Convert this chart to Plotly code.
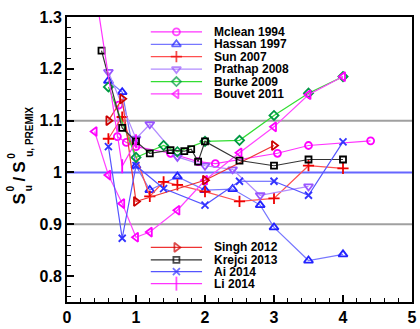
import plotly.graph_objects as go

# ---------------- data ----------------
mclean_x = [0.75, 0.73, 0.86, 1.0, 1.5, 1.9, 2.15, 3.05, 3.5, 4.4]
mclean_y = [1.13, 1.069, 1.058, 1.05, 1.037, 1.021, 1.017, 1.037, 1.052, 1.061]

hassan_x = [0.6, 0.8, 1.0, 1.2, 1.6, 2.0, 2.4, 2.8, 3.0, 3.5, 4.0]
hassan_y = [1.177, 1.155, 1.013, 0.966, 0.992, 0.966, 0.968, 0.937, 0.894, 0.83, 0.842]

sun_x = [0.6, 0.8, 1.2, 1.4, 1.6, 2.0, 2.5, 3.0, 3.5, 4.0]
sun_y = [1.065, 1.107, 0.954, 0.982, 0.976, 0.963, 0.944, 0.95, 1.013, 1.008]

prathap_x = [0.6, 1.0, 1.2, 1.6, 2.0, 2.4, 2.8, 3.5]
prathap_y = [1.194, 1.065, 1.093, 1.03, 1.013, 1.006, 0.956, 0.973]

burke_x = [0.6, 1.0, 1.4, 1.6, 2.0, 2.5, 3.0, 3.5, 4.0]
burke_y = [1.165, 1.029, 1.052, 1.04, 1.06, 1.062, 1.11, 1.153, 1.185]

bouvet_x = [0.4, 0.6, 0.8, 1.0, 1.2, 1.6, 2.0, 2.5, 3.0, 3.5, 4.0]
bouvet_y = [1.079, 0.995, 0.94, 0.875, 0.885, 0.927, 0.985, 1.038, 1.088, 1.15, 1.185]

singh_x = [0.6, 0.8, 1.0, 2.0, 3.0]
singh_y = [1.1, 1.142, 0.944, 0.985, 1.052]

krejci_x = [0.5, 0.8, 1.0, 1.2, 1.5, 1.7, 1.8, 1.9, 2.0, 2.5, 3.0, 3.5, 4.0]
krejci_y = [1.235, 1.086, 1.06, 1.037, 1.043, 1.041, 1.045, 1.021, 1.06, 1.023, 1.013, 1.025, 1.025]

ai_x = [0.6, 0.8, 1.0, 1.4, 2.0, 2.5, 3.0, 3.5, 4.0]
ai_y = [1.05, 0.873, 1.013, 0.969, 0.937, 0.983, 0.983, 0.956, 1.059]

li_x = [0.4, 0.8, 1.0]
li_y = [1.36, 1.012, 1.06]

y_tickvals = [0.8, 0.9, 1.0, 1.1, 1.2, 1.3]
y_ticktext = ["0.8", "0.9", "1", "1.1", "1.2", "1.3"]
x_tickvals = [0, 1, 2, 3, 4, 5]
x_ticktext = ["0", "1", "2", "3", "4", "5"]
ref_lines = [0.9, 1.0, 1.1]

# name, x, y, line colour, marker colour, symbol, size
series = [
    ("Mclean 1994", mclean_x, mclean_y, "#FF33FF", "#FF00FF", "circle-open", 7),
    ("Hassan 1997", hassan_x, hassan_y, "#7777FF", "#2222FF", "triangle-up-open", 8),
    ("Sun 2007", sun_x, sun_y, "#FF5050", "#EE0000", "cross-thin-open", 8),
    ("Prathap 2008", prathap_x, prathap_y, "#B28CFF", "#9955FF", "triangle-down-open", 8),
    ("Burke 2009", burke_x, burke_y, "#33DD33", "#009944", "diamond-open", 7),
    ("Bouvet 2011", bouvet_x, bouvet_y, "#FF44FF", "#FF00FF", "triangle-left-open", 8),
    ("Singh 2012", singh_x, singh_y, "#EE3333", "#CC0000", "triangle-right-open", 8),
    ("Krejci 2013", krejci_x, krejci_y, "#333333", "#000000", "square-open", 6),
    ("Ai 2014", ai_x, ai_y, "#5555FF", "#3333FF", "x-thin-open", 7),
    ("Li 2014", li_x, li_y, "#FF33FF", "#FF00FF", "line-ns-open", 10),
]

FONT = "Liberation Sans, Arial, Helvetica, sans-serif"
W, H = 420, 329
L, R, T, B = 67, 417, 17, 304  # plot area in pixels

fig = go.Figure()

for name, xs, ys, lc, mc, sym, sz in series:
    fig.add_trace(go.Scatter(
        x=xs, y=ys, mode="lines+markers", name=name, showlegend=False,
        line=dict(color=lc, width=1.2),
        marker=dict(symbol=sym, size=sz, color=mc, line=dict(color=mc, width=1.8)),
        cliponaxis=True,
    ))

# ---- manual legends (pixel coords on overlay axis) ----
rows_top = [32, 44.5, 57, 69.5, 82, 94.5]
rows_bot = [249, 261.5, 273.5, 285.5]
rows = rows_top + rows_bot
annotations = []
for (name, xs, ys, lc, mc, sym, sz), ry in zip(series, rows):
    fig.add_trace(go.Scatter(
        x=[152, 178, 204], y=[ry, ry, ry], mode="lines+markers",
        xaxis="x2", yaxis="y2", showlegend=False, hoverinfo="skip",
        line=dict(color=lc, width=1.2),
        marker=dict(symbol=sym, size=[0, sz, 0], color=mc,
                    line=dict(color=mc, width=1.8)),
    ))
    annotations.append(dict(
        x=(214 - L) / (R - L), y=(B - ry) / (B - T), xref="paper", yref="paper",
        text=name, showarrow=False, xanchor="left", yanchor="middle",
        font=dict(family=FONT, size=12, color="black", weight="bold"),
    ))

# ---- y axis title built from pieces for stacked super/subscripts ----
def px2paper(px, py):
    return (px - L) / (R - L), (B - py) / (B - T)

title_pieces = [
    ("S", 17, 19, 200),
    ("0", 10, 10, 190),
    ("u", 10, 28, 190),
    ("/", 17, 19, 180),
    ("S", 17, 19, 168),
    ("0", 10, 10, 157),
    ("u, PREMIX", 10, 29, 133),
]
for txt, fs, px, py in title_pieces:
    ax, ay = px2paper(px, py)
    annotations.append(dict(
        x=ax, y=ay, xref="paper", yref="paper", text=txt, showarrow=False,
        textangle=-90, xanchor="center", yanchor="middle",
        font=dict(family=FONT, size=fs, color="black", weight="bold"),
    ))

shapes = []
for v in ref_lines:
    shapes.append(dict(
        type="line", xref="paper", yref="y", x0=0, x1=1, y0=v, y1=v,
        line=dict(color="#6666FF" if v == 1.0 else "#A0A0A0", width=2),
        layer="below",
    ))

fig.update_layout(
    width=W, height=H,
    margin=dict(l=L, r=W - R, t=T, b=H - B, pad=0),
    paper_bgcolor="white", plot_bgcolor="white",
    font=dict(family=FONT, color="black"),
    showlegend=False,
    xaxis=dict(
        range=[0, 5], tickvals=x_tickvals, ticktext=x_ticktext,
        ticks="inside", ticklen=7, tickwidth=1.5, tickcolor="black",
        minor=dict(dtick=0.2, ticks="inside", ticklen=4, tickwidth=1, tickcolor="black"),
        showgrid=False, zeroline=False,
        showline=True, linecolor="black", linewidth=2, mirror=True,
        tickfont=dict(family=FONT, size=16, color="black", weight="bold"),
    ),
    yaxis=dict(
        range=[0.75, 1.3], tickvals=y_tickvals, ticktext=y_ticktext,
        ticks="inside", ticklen=7, tickwidth=1.5, tickcolor="black",
        minor=dict(dtick=0.02, ticks="inside", ticklen=4, tickwidth=1, tickcolor="black"),
        showgrid=False, zeroline=False,
        showline=True, linecolor="black", linewidth=2, mirror=True,
        tickfont=dict(family=FONT, size=16, color="black", weight="bold"),
    ),
    xaxis2=dict(range=[L, R], overlaying="x", anchor="y2", visible=False, fixedrange=True),
    yaxis2=dict(range=[B, T], overlaying="y", anchor="x2", visible=False, fixedrange=True),
    annotations=annotations,
    shapes=shapes,
)

fig.write_html("out.html")
